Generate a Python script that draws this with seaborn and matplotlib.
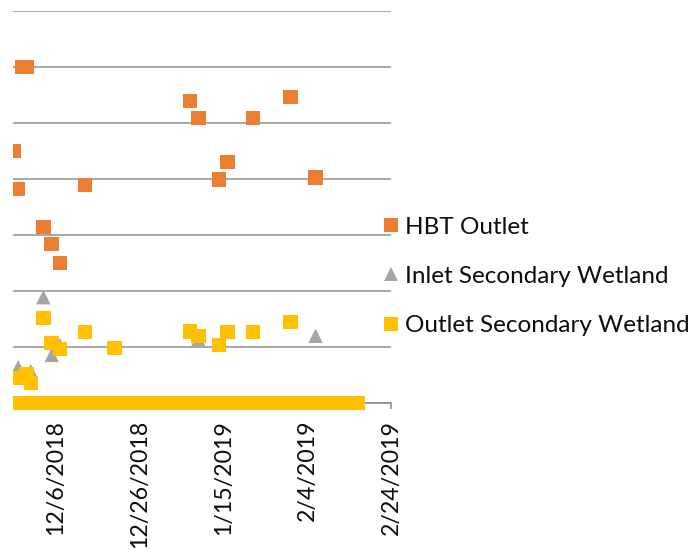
import matplotlib
matplotlib.use("Agg")
import matplotlib.pyplot as plt
from matplotlib.lines import Line2D
from matplotlib.patches import Rectangle
import pandas as pd
import seaborn as sns

# ---- data -------------------------------------------------------------
hbt_dates = ["2018-11-26", "2018-11-27", "2018-11-28", "2018-11-29", "2018-12-03",
             "2018-12-05", "2018-12-07", "2018-12-13", "2019-01-07", "2019-01-09",
             "2019-01-14", "2019-01-16", "2019-01-22", "2019-01-31", "2019-02-06"]
hbt_values = [4.50, 3.82, 6.00, 6.00, 3.14, 2.84, 2.50, 3.89, 5.39, 5.09,
              3.99, 4.30, 5.09, 5.46, 4.03]

inlet_dates = ["2018-11-27", "2018-11-30", "2018-12-03", "2018-12-05", "2018-12-07",
               "2019-01-09", "2019-02-06"]
inlet_values = [0.64, 0.57, 1.89, 0.86, 1.03, 1.14, 1.20]

outlet_dates = ["2018-11-27", "2018-11-29", "2018-11-30", "2018-12-03", "2018-12-05",
                "2018-12-07", "2018-12-13", "2018-12-20", "2019-01-07", "2019-01-09",
                "2019-01-14", "2019-01-16", "2019-01-22", "2019-01-31"]
outlet_values = [0.45, 0.52, 0.36, 1.52, 1.07, 0.96, 1.27, 0.98, 1.28, 1.20,
                 1.04, 1.27, 1.27, 1.45]

# days without a reading are logged as 0 for the outlet
outlet_zero_first = "2018-11-25"
outlet_zero_last = "2019-02-16"

series_names = ["HBT Outlet", "Inlet Secondary Wetland", "Outlet Secondary Wetland"]
tick_dates = ["2018-12-06", "2018-12-26", "2019-01-15", "2019-02-04", "2019-02-24"]

# ---- long-form table ----------------------------------------------------
zero_dates = pd.date_range(outlet_zero_first, outlet_zero_last, freq="D")
frames = [
    pd.DataFrame({"date": pd.to_datetime(hbt_dates), "value": hbt_values,
                  "series": series_names[0]}),
    pd.DataFrame({"date": pd.to_datetime(inlet_dates), "value": inlet_values,
                  "series": series_names[1]}),
    pd.DataFrame({"date": zero_dates, "value": 0.0, "series": series_names[2]}),
    pd.DataFrame({"date": pd.to_datetime(outlet_dates), "value": outlet_values,
                  "series": series_names[2]}),
]
df = pd.concat(frames, ignore_index=True)

palette = {series_names[0]: "#ED7D31", series_names[1]: "#A5A5A5",
           series_names[2]: "#FFC000"}
markers = {series_names[0]: "s", series_names[1]: "^", series_names[2]: "s"}

# ---- figure -----------------------------------------------------------
sns.set_theme(style="white")
plt.rcParams["font.family"] = ["Lato", "DejaVu Sans"]
plt.rcParams["text.color"] = "#0d0d0d"

W, H = 696, 550
fig = plt.figure(figsize=(W / 100, H / 100), dpi=100)
ax = fig.add_axes([13 / W, (H - 403) / H, 378 / W, 392 / H])

msize = 10.4
sns.scatterplot(data=df, x="date", y="value", hue="series", style="series",
                palette=palette, markers=markers, s=msize ** 2, linewidth=0,
                legend=False, clip_on=False, zorder=3, ax=ax)

x_left = pd.Timestamp("2018-12-06") - pd.Timedelta(days=43 / 4.2)
ax.set_xlim(x_left, pd.Timestamp("2019-02-24"))
ax.set_ylim(0, 7)
ax.set_yticks(range(0, 8))
ax.yaxis.grid(True, color="#999999", linewidth=1.2)
ax.xaxis.grid(False)
ax.set_axisbelow(True)
ax.tick_params(axis="y", left=False, labelleft=False)

ticks = pd.to_datetime(tick_dates)
ax.set_xticks(ticks)
ax.set_xticklabels([f"{d.month}/{d.day}/{d.year}" for d in ticks],
                   rotation=90, fontsize=16.7, color="#0d0d0d")
ax.tick_params(axis="x", bottom=True, direction="out", length=4, width=1.1,
               color="#8c8c8c", pad=8)
ax.set_xlabel("")
ax.set_ylabel("")

for side in ["top", "right", "left"]:
    ax.spines[side].set_visible(False)
ax.spines["bottom"].set_color("#8c8c8c")
ax.spines["bottom"].set_linewidth(1.2)
ax.spines["bottom"].set_zorder(1)

# white margin on the left edge
fig.add_artist(Rectangle((0, 0), 13 / W, 1, transform=fig.transFigure,
                         facecolor="white", edgecolor="none", zorder=10))

handles = [Line2D([], [], linestyle="none", marker=markers[n], markersize=msize,
                  markerfacecolor=palette[n], markeredgewidth=0)
           for n in series_names]
leg = fig.legend(handles, series_names, loc="center left",
                 bbox_to_anchor=(379 / W, 1 - 276.5 / H), frameon=False,
                 fontsize=17.5, handlelength=0.95, handletextpad=0.1,
                 labelspacing=1.16, borderpad=0, borderaxespad=0)
for t in leg.get_texts():
    t.set_color("#0d0d0d")

fig.savefig("out.png", dpi=100, facecolor="white")
